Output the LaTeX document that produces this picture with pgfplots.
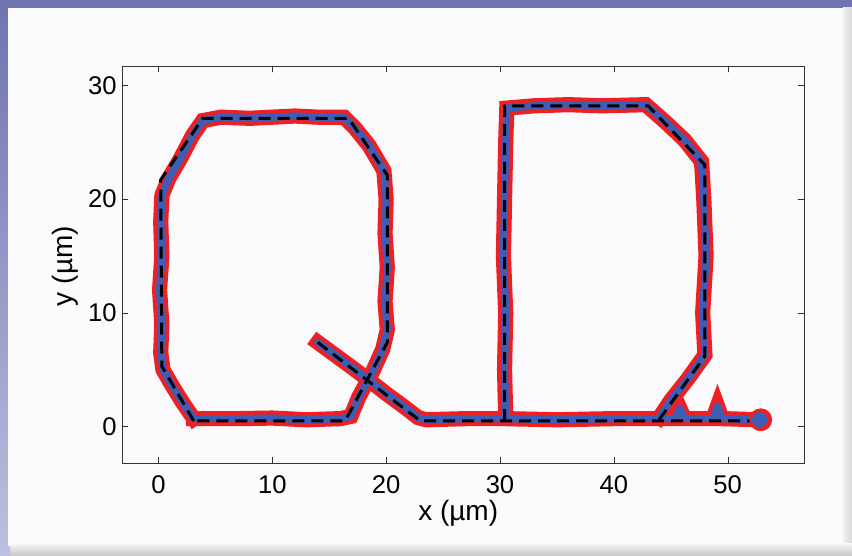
\documentclass[border=0pt]{standalone}
\usepackage{fontspec}
\setmainfont{Liberation Sans}
\usepackage{pgfplots}
\pgfplotsset{compat=1.18}
\usepackage{pgfplotstable}

\definecolor{trajred}{HTML}{ED2024}
\definecolor{trajblue}{HTML}{3D5DB6}
\definecolor{frametop}{HTML}{6F73B0}
\definecolor{framebot}{HTML}{BEC0DF}
\definecolor{panel}{HTML}{FBFBFD}

% measured trajectory (blue / red)
\pgfplotstableread{
x y
3.1 0.7
2.2 2.0
1.2 3.6
0.4 5.0
0.2 6.5
0.3 9.0
0.1 12.0
0.3 15.0
0.2 18.0
0.3 20.3
0.9 21.8
1.9 23.5
3.0 25.6
3.9 26.9
5.5 27.2
8.0 27.1
10.0 27.2
12.0 27.3
14.0 27.2
16.3 27.2
17.3 26.2
18.5 24.7
19.8 22.5
20.0 20.0
19.9 17.0
20.1 14.0
19.9 11.0
20.1 8.5
19.7 6.8
18.8 4.8
17.6 2.6
16.9 0.9
16.0 0.7
13.0 0.6
10.0 0.75
7.0 0.7
4.5 0.7
3.1 0.7
}\qmeas

\pgfplotstableread{
x y
14.0 7.4
15.5 6.3
17.0 5.2
18.6 4.0
20.0 2.9
21.5 1.8
22.8 0.8
23.5 0.6
27.0 0.7
30.4 0.7
35.0 0.6
40.0 0.7
43.9 0.7
45.4 0.7
45.8 1.6
46.2 0.7
48.7 0.7
49.1 1.8
49.5 0.7
52.8 0.6
}\tailmeas

\pgfplotstableread{
x y
30.5 0.8
30.4 5.0
30.5 10.0
30.3 15.0
30.4 20.0
30.5 25.0
30.6 28.0
33.0 28.2
36.0 28.3
39.0 28.2
42.8 28.3
44.5 26.8
46.2 25.2
47.7 23.3
47.9 20.0
48.1 15.0
47.8 10.0
48.0 6.3
46.5 4.2
45.0 2.3
44.0 0.8
}\dmeas

% design path (black dashed)
\pgfplotstableread{
x y
3.1 0.5
0.3 5.3
0.2 21.7
3.9 27.1
16.7 27.1
20.1 22.1
20.1 7.4
16.4 0.5
3.1 0.5
}\qdes

\pgfplotstableread{
x y
14.0 7.4
23.0 0.5
52.7 0.5
}\taildes

\pgfplotstableread{
x y
30.4 0.5
30.4 28.2
43.0 28.2
48.0 23.0
48.0 6.2
43.9 0.5
}\ddes

\begin{document}
\begin{tikzpicture}
% frame
\shade[top color=frametop, bottom color=framebot] (0,0) rectangle (426pt,278pt);
\fill[panel] (4pt,5pt) rectangle (421.5pt,274pt);
\shade[left color=gray!12, right color=gray!30] (421.5pt,5pt) rectangle (426pt,274pt);
\shade[top color=gray!8, bottom color=gray!45] (5pt,0) rectangle (426pt,6pt);

\begin{axis}[
    at={(61pt,46.5pt)}, anchor=south west,
    scale only axis,
    width=341pt, height=198.5pt,
    xmin=-3.2, xmax=56.7,
    ymin=-3.2, ymax=31.7,
    xtick={0,10,...,50},
    ytick={0,10,20,30},
    axis line style={black!80},
    major tick style={black!80},
    major tick length=3pt,
    tick align=inside,
    axis background/.style={fill=panel},
    /pgf/number format/assume math mode=true,
    tick label style={font=\fontsize{12.8}{14}\selectfont},
    xticklabel style={yshift=-2.7pt},
    yticklabel style={xshift=0.8pt},
    label style={font=\fontsize{14}{16}\selectfont},
    xlabel={x (µm)},
    ylabel={y (µm)},
    xlabel style={at={(axis description cs:0.493,-0.1436)}, anchor=base},
    ylabel style={at={(axis description cs:-0.0733,0.496)}, anchor=base},
    line join=round, line cap=round,
]
% red halo
\addplot[trajred, line width=7.6pt, line cap=rect, line join=miter] table {\qmeas};
\addplot[trajred, line width=7.6pt, line cap=rect, line join=miter] table {\tailmeas};
\addplot[trajred, line width=7.6pt, line cap=rect, line join=miter] table {\dmeas};
\addplot[only marks, mark=*, mark size=5.5pt, trajred] coordinates {(52.9,0.6)};
% blue measured path
\addplot[trajblue, line width=3.6pt] table {\qmeas};
\addplot[trajblue, line width=3.6pt] table {\tailmeas};
\addplot[trajblue, line width=3.6pt] table {\dmeas};
\addplot[only marks, mark=*, mark size=3.6pt, trajblue] coordinates {(52.8,0.6)};
% design path
\addplot[black, line width=1.5pt, dash pattern=on 6pt off 3.5pt, line cap=butt] table {\qdes};
\addplot[black, line width=1.5pt, dash pattern=on 6pt off 3.5pt, line cap=butt] table {\taildes};
\addplot[black, line width=1.5pt, dash pattern=on 6pt off 3.5pt, line cap=butt] table {\ddes};
\end{axis}
\end{tikzpicture}
\end{document}
